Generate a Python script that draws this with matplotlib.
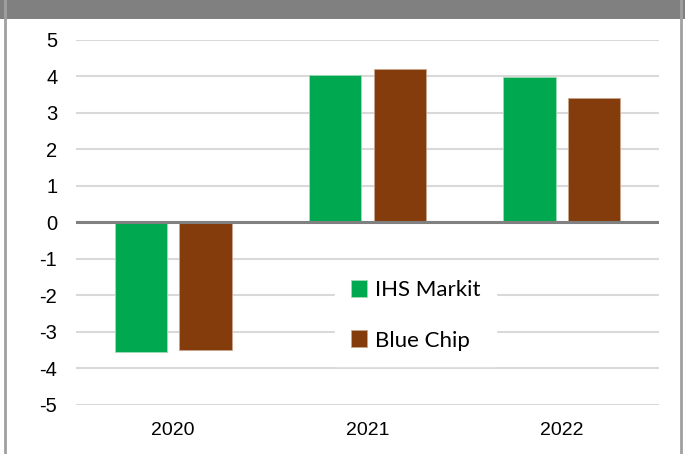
import numpy as np
import matplotlib
matplotlib.use('Agg')
import matplotlib.pyplot as plt
from matplotlib.patches import Rectangle
from matplotlib.lines import Line2D

plt.rcParams['font.family'] = ['Liberation Sans', 'DejaVu Sans']
plt.rcParams['axes.unicode_minus'] = False

# data
years = ['2020', '2021', '2022']
ihs_markit = [-3.56, 4.03, 3.97]
blue_chip = [-3.5, 4.19, 3.41]
series_names = ['IHS Markit', 'Blue Chip']
colors = ['#00A94F', '#843C0C']

fig = plt.figure(figsize=(6.85, 4.54), dpi=100)
ax = fig.add_axes([0.111, 0.108, 0.851, 0.8045])

x = np.arange(len(years))
w = 0.27
off = 0.167
b1 = ax.bar(x - off, ihs_markit, w, color=colors[0], edgecolor='#9fdcb8', linewidth=0.6,
            label=series_names[0], zorder=3)
b2 = ax.bar(x + off, blue_chip, w, color=colors[1], edgecolor='#c9a58c', linewidth=0.6,
            label=series_names[1], zorder=3)

ax.set_xlim(-0.5, 2.5)
ax.set_ylim(-5, 5)
ax.set_yticks(range(-5, 6))
ax.set_xticks(x)
ax.set_xticklabels(years)
ax.tick_params(axis='y', length=0, labelsize=14.5, colors='black', pad=13.5)
ax.tick_params(axis='x', length=0, labelsize=14, colors='black', pad=12.5)
ax.grid(axis='y', color='#D9D9D9', linewidth=1.5, zorder=0)
ax.set_axisbelow(True)
for s in ax.spines.values():
    s.set_visible(False)
ax.axhline(0, color='#808080', linewidth=2.2, zorder=4)

# legend
leg = ax.legend(handles=[b1, b2], loc='center left', bbox_to_anchor=(0.445, 0.246),
                frameon=True, fancybox=False, framealpha=1, edgecolor='white',
                prop={'family': 'Lato', 'size': 16}, labelspacing=1.38,
                handlelength=0.7, handleheight=0.8, handletextpad=0.4,
                borderpad=0.7, borderaxespad=0)
leg.set_zorder(5)

# frame of the graphic: gray band on top and thin side borders
fig.patches.append(Rectangle((0, 1 - 19 / 454), 1, 19 / 454, transform=fig.transFigure,
                             facecolor='#808080', edgecolor='none', zorder=0))
fig.lines.append(Line2D([5 / 685, 5 / 685], [0, 1], transform=fig.transFigure,
                        color='#A0A0A0', linewidth=2))
fig.lines.append(Line2D([680.5 / 685, 680.5 / 685], [0, 1], transform=fig.transFigure,
                        color='#A0A0A0', linewidth=2))

fig.savefig('out.png', dpi=100)
